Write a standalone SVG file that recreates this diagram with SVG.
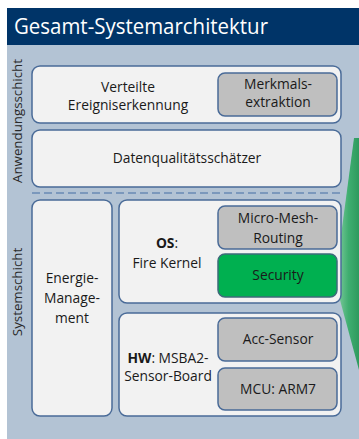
<svg xmlns="http://www.w3.org/2000/svg" width="359" height="439" viewBox="0 0 359 439">
  <defs>
    <linearGradient id="wedgeGrad" x1="0" y1="0" x2="1" y2="0">
      <stop offset="0" stop-color="#7cc99c"/>
      <stop offset="0.5" stop-color="#3fae70"/>
      <stop offset="1" stop-color="#2e9a5e"/>
    </linearGradient>
  </defs>
  <style>
    text { font-family: "Open Sans", "Liberation Sans", Arial, sans-serif; font-size: 13.8px; fill: #1a1a1a; text-anchor: middle; }
    .layer { fill: #f2f2f2; stroke: #4a6b98; stroke-width: 1.5; }
    .part { fill: #bfbfbf; stroke: #4a6b98; stroke-width: 1.5; }
    .sec { fill: #00b050; stroke: #3d6b7a; stroke-width: 1.5; }
    .side { font-size: 13.3px; fill: #2a2a2a; }
    .title { font-size: 22px; fill: #ffffff; text-anchor: start; }
  </style>

  <!-- background panel and title bar -->
  <rect x="7" y="45" width="352" height="394" fill="#b3c3d4"/>
  <rect x="7" y="8" width="352" height="37" fill="#003468"/>
  <text class="title" x="14" y="34" textLength="254" lengthAdjust="spacingAndGlyphs">Gesamt-Systemarchitektur</text>

  <!-- side labels -->
  <text class="side" transform="translate(22,121) rotate(-90)">Anwendungsschicht</text>
  <text class="side" transform="translate(22,292) rotate(-90)">Systemschicht</text>

  <!-- zoom wedge from the security module -->
  <polygon points="338,258 354,138 359,138 359,370 340,300" fill="url(#wedgeGrad)"/>

  <!-- layer separator -->
  <g id="connectors">
    <line x1="32" y1="193" x2="341" y2="193" stroke="#6a8ab4" stroke-width="1.5" stroke-dasharray="8,4"/>
  </g>

  <g id="ereigniserkennung">
    <rect class="layer" x="32" y="66" width="309" height="57" rx="8"/>
    <text x="128" y="92">Verteilte</text>
    <text x="128" y="110">Ereigniserkennung</text>
  </g>
  <g id="merkmalsextraktion">
    <rect class="part" x="218" y="73" width="119" height="43" rx="7"/>
    <text x="278" y="89">Merkmals-</text>
    <text x="278" y="107">extraktion</text>
  </g>

  <g id="datenqualitaet">
    <rect class="layer" x="32" y="130" width="309" height="57" rx="8"/>
    <text x="187" y="163">Datenqualitätsschätzer</text>
  </g>

  <g id="energie">
    <rect class="layer" x="32" y="200" width="80" height="216" rx="8"/>
    <text x="72" y="283">Energie-</text>
    <text x="72" y="303">Manage-</text>
    <text x="72" y="323">ment</text>
  </g>

  <g id="os">
    <rect class="layer" x="119" y="200" width="222" height="103" rx="8"/>
    <text x="167" y="248"><tspan font-weight="bold">OS</tspan>:</text>
    <text x="167" y="268">Fire Kernel</text>
  </g>
  <g id="routing">
    <rect class="part" x="218" y="206" width="119" height="43" rx="7"/>
    <text x="278" y="223">Micro-Mesh-</text>
    <text x="278" y="243">Routing</text>
  </g>
  <g id="security">
    <rect class="sec" x="218" y="254" width="119" height="43" rx="7"/>
    <text x="278" y="280">Security</text>
  </g>

  <g id="hw">
    <rect class="layer" x="119" y="313" width="222" height="103" rx="8"/>
    <text x="168" y="363"><tspan font-weight="bold">HW</tspan>: MSBA2-</text>
    <text x="168" y="381">Sensor-Board</text>
  </g>
  <g id="acc">
    <rect class="part" x="218" y="318" width="119" height="43" rx="7"/>
    <text x="278" y="344">Acc-Sensor</text>
  </g>
  <g id="mcu">
    <rect class="part" x="218" y="368" width="119" height="42" rx="7"/>
    <text x="278" y="394">MCU: ARM7</text>
  </g>
</svg>
